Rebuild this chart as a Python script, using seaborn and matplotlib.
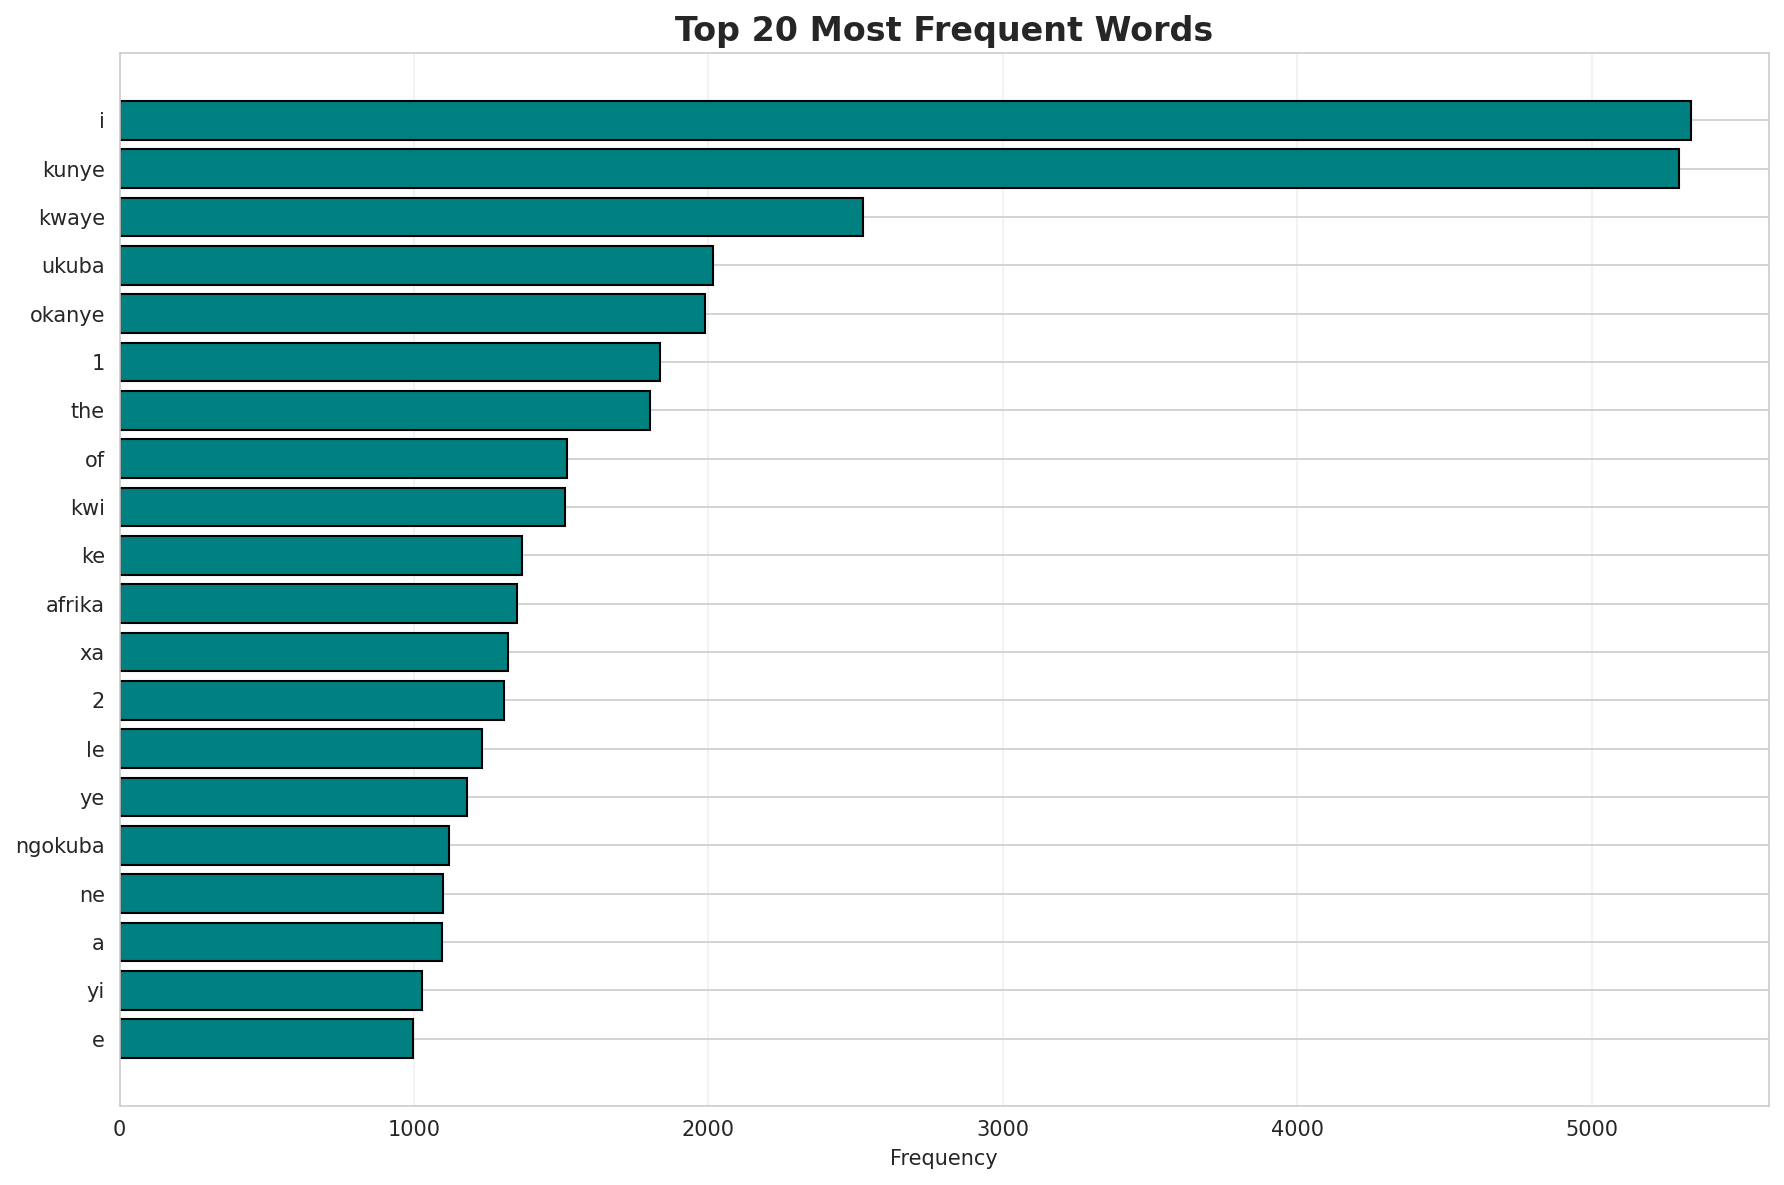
import seaborn as sns
import pandas as pd
from matplotlib import pyplot as plt

words = ['i', 'kunye', 'kwaye', 'ukuba', 'okanye', '1', 'the', 'of', 'kwi', 'ke',
         'afrika', 'xa', '2', 'le', 'ye', 'ngokuba', 'ne', 'a', 'yi', 'e']
counts = [5336, 5297, 2525, 2015, 1988, 1834, 1803, 1521, 1514, 1367,
          1351, 1320, 1305, 1232, 1181, 1120, 1097, 1095, 1027, 996]

data = pd.DataFrame({'word': words, 'count': counts})

sns.set_style('whitegrid')
fig, ax = plt.subplots(figsize=(1784 / 150, 1185 / 150), dpi=150)

sns.barplot(x='count', y='word', data=data, orient='h', color='teal',
            saturation=1, edgecolor='black', linewidth=1.0, width=0.8, ax=ax)

# matplotlib-like margins instead of seaborn's categorical limits
n = len(words)
span = (n - 1) + 0.8
ax.set_ylim(n - 1 + 0.4 + 0.05 * span, -0.4 - 0.05 * span)
ax.set_xlim(0, max(counts) * 1.05)
ax.yaxis.grid(True)
ax.xaxis.grid(True, alpha=0.3)
ax.set_axisbelow(True)

ax.set_title('Top 20 Most Frequent Words', fontsize=16, fontweight='bold')
ax.set_xlabel('Frequency')
ax.set_ylabel('')

plt.subplots_adjust(left=0.067, right=0.9917, top=0.955, bottom=0.0668)
plt.savefig('out.png', dpi=150)
